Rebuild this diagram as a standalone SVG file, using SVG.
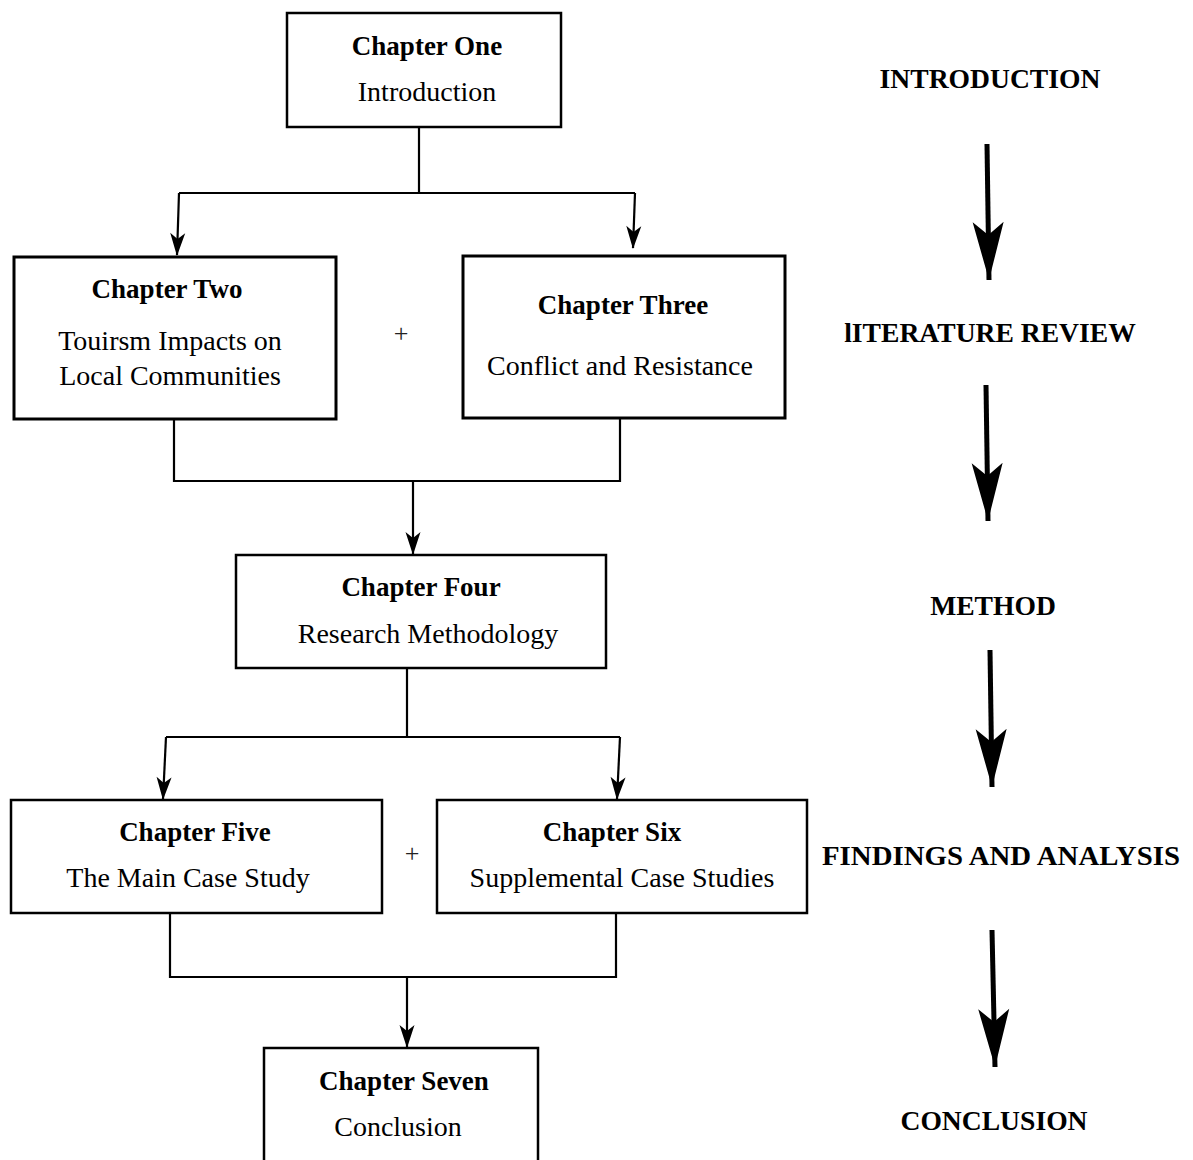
<svg xmlns="http://www.w3.org/2000/svg" width="1193" height="1160" viewBox="0 0 1193 1160">
<style>
.box{fill:#fff;stroke:#000;stroke-width:2.5}
.thick{stroke-width:3}
.t{font-family:"Liberation Serif","Times New Roman",serif;font-size:27px;font-weight:bold;text-anchor:middle;fill:#000}
.s{font-family:"Liberation Serif","Times New Roman",serif;font-size:28px;text-anchor:middle;fill:#000}
.lbl{font-family:"Liberation Serif","Times New Roman",serif;font-size:27.6px;font-weight:bold;text-anchor:middle;fill:#000}
.plus{font-family:"Liberation Serif","Times New Roman",serif;font-size:26px;text-anchor:middle;fill:#222}
.c{fill:none;stroke:#000;stroke-width:2.2}
.big{fill:none;stroke:#000;stroke-width:5}
</style>
<defs>
<marker id="ah" markerUnits="userSpaceOnUse" viewBox="-24 -9 26 18" refX="0" refY="0" markerWidth="26" markerHeight="18" orient="auto">
<path d="M1,0 L-22,-7.5 L-16,0 L-22,7.5 Z" fill="#000"/>
</marker>
<marker id="bh" markerUnits="userSpaceOnUse" viewBox="-60 -17 62 34" refX="0" refY="0" markerWidth="62" markerHeight="34" orient="auto">
<path d="M0,0 L-58,-15.5 L-45,0 L-58,15.5 Z" fill="#000"/>
</marker>
</defs>
<rect width="1193" height="1160" fill="#fff"/>
<g id="connectors">
<path class="c" d="M419,127 V193 M179,193 H635"/>
<path class="c" d="M179,193 L177,255" marker-end="url(#ah)"/>
<path class="c" d="M635,193 L633,248" marker-end="url(#ah)"/>
<path class="c" d="M174,419 V481 H620 V418"/>
<path class="c" d="M413,481 V554" marker-end="url(#ah)"/>
<path class="c" d="M407,668 V737 M166,737 H620"/>
<path class="c" d="M166,737 L163,799" marker-end="url(#ah)"/>
<path class="c" d="M620,737 L617,799" marker-end="url(#ah)"/>
<path class="c" d="M170,913 V977 H616 V913"/>
<path class="c" d="M407,977 V1047" marker-end="url(#ah)"/>
</g>
<g id="node1"><rect class="box" x="287" y="13" width="274" height="114"/>
<text class="t" x="427" y="55">Chapter One</text><text class="s" x="427" y="101">Introduction</text></g>
<g id="node2"><rect class="box thick" x="14" y="257" width="322" height="162"/>
<text class="t" x="167" y="298">Chapter Two</text><text class="s" x="170" y="350">Touirsm Impacts on</text><text class="s" x="170" y="385">Local Communities</text></g>
<g id="node3"><rect class="box thick" x="463" y="256" width="322" height="162"/>
<text class="t" x="623" y="314">Chapter Three</text><text class="s" x="620" y="375">Conflict and Resistance</text></g>
<g id="node4"><rect class="box" x="236" y="555" width="370" height="113"/>
<text class="t" x="421" y="596">Chapter Four</text><text class="s" x="428" y="643">Research Methodology</text></g>
<g id="node5"><rect class="box" x="11" y="800" width="371" height="113"/>
<text class="t" x="195" y="841">Chapter Five</text><text class="s" x="188" y="887">The Main Case Study</text></g>
<g id="node6"><rect class="box" x="437" y="800" width="370" height="113"/>
<text class="t" x="612" y="841">Chapter Six</text><text class="s" x="622" y="887">Supplemental Case Studies</text></g>
<g id="node7"><rect class="box" x="264" y="1048" width="274" height="120"/>
<text class="t" x="404" y="1090">Chapter Seven</text><text class="s" x="398" y="1136">Conclusion</text></g>
<text class="plus" x="401" y="342">+</text>
<text class="plus" x="412" y="862">+</text>
<g id="stages">
<text class="lbl" x="990" y="88">INTRODUCTION</text>
<text class="lbl" x="990" y="342">lITERATURE REVIEW</text>
<text class="lbl" x="993" y="615">METHOD</text>
<text class="lbl" x="1001" y="865" textLength="358" lengthAdjust="spacingAndGlyphs">FINDINGS AND ANALYSIS</text>
<text class="lbl" x="994" y="1130">CONCLUSION</text>
<path class="big" d="M987,144 L989,280" marker-end="url(#bh)"/>
<path class="big" d="M986,385 L988,521" marker-end="url(#bh)"/>
<path class="big" d="M990,650 L992,787" marker-end="url(#bh)"/>
<path class="big" d="M992,930 L995,1067" marker-end="url(#bh)"/>
</g>
</svg>
